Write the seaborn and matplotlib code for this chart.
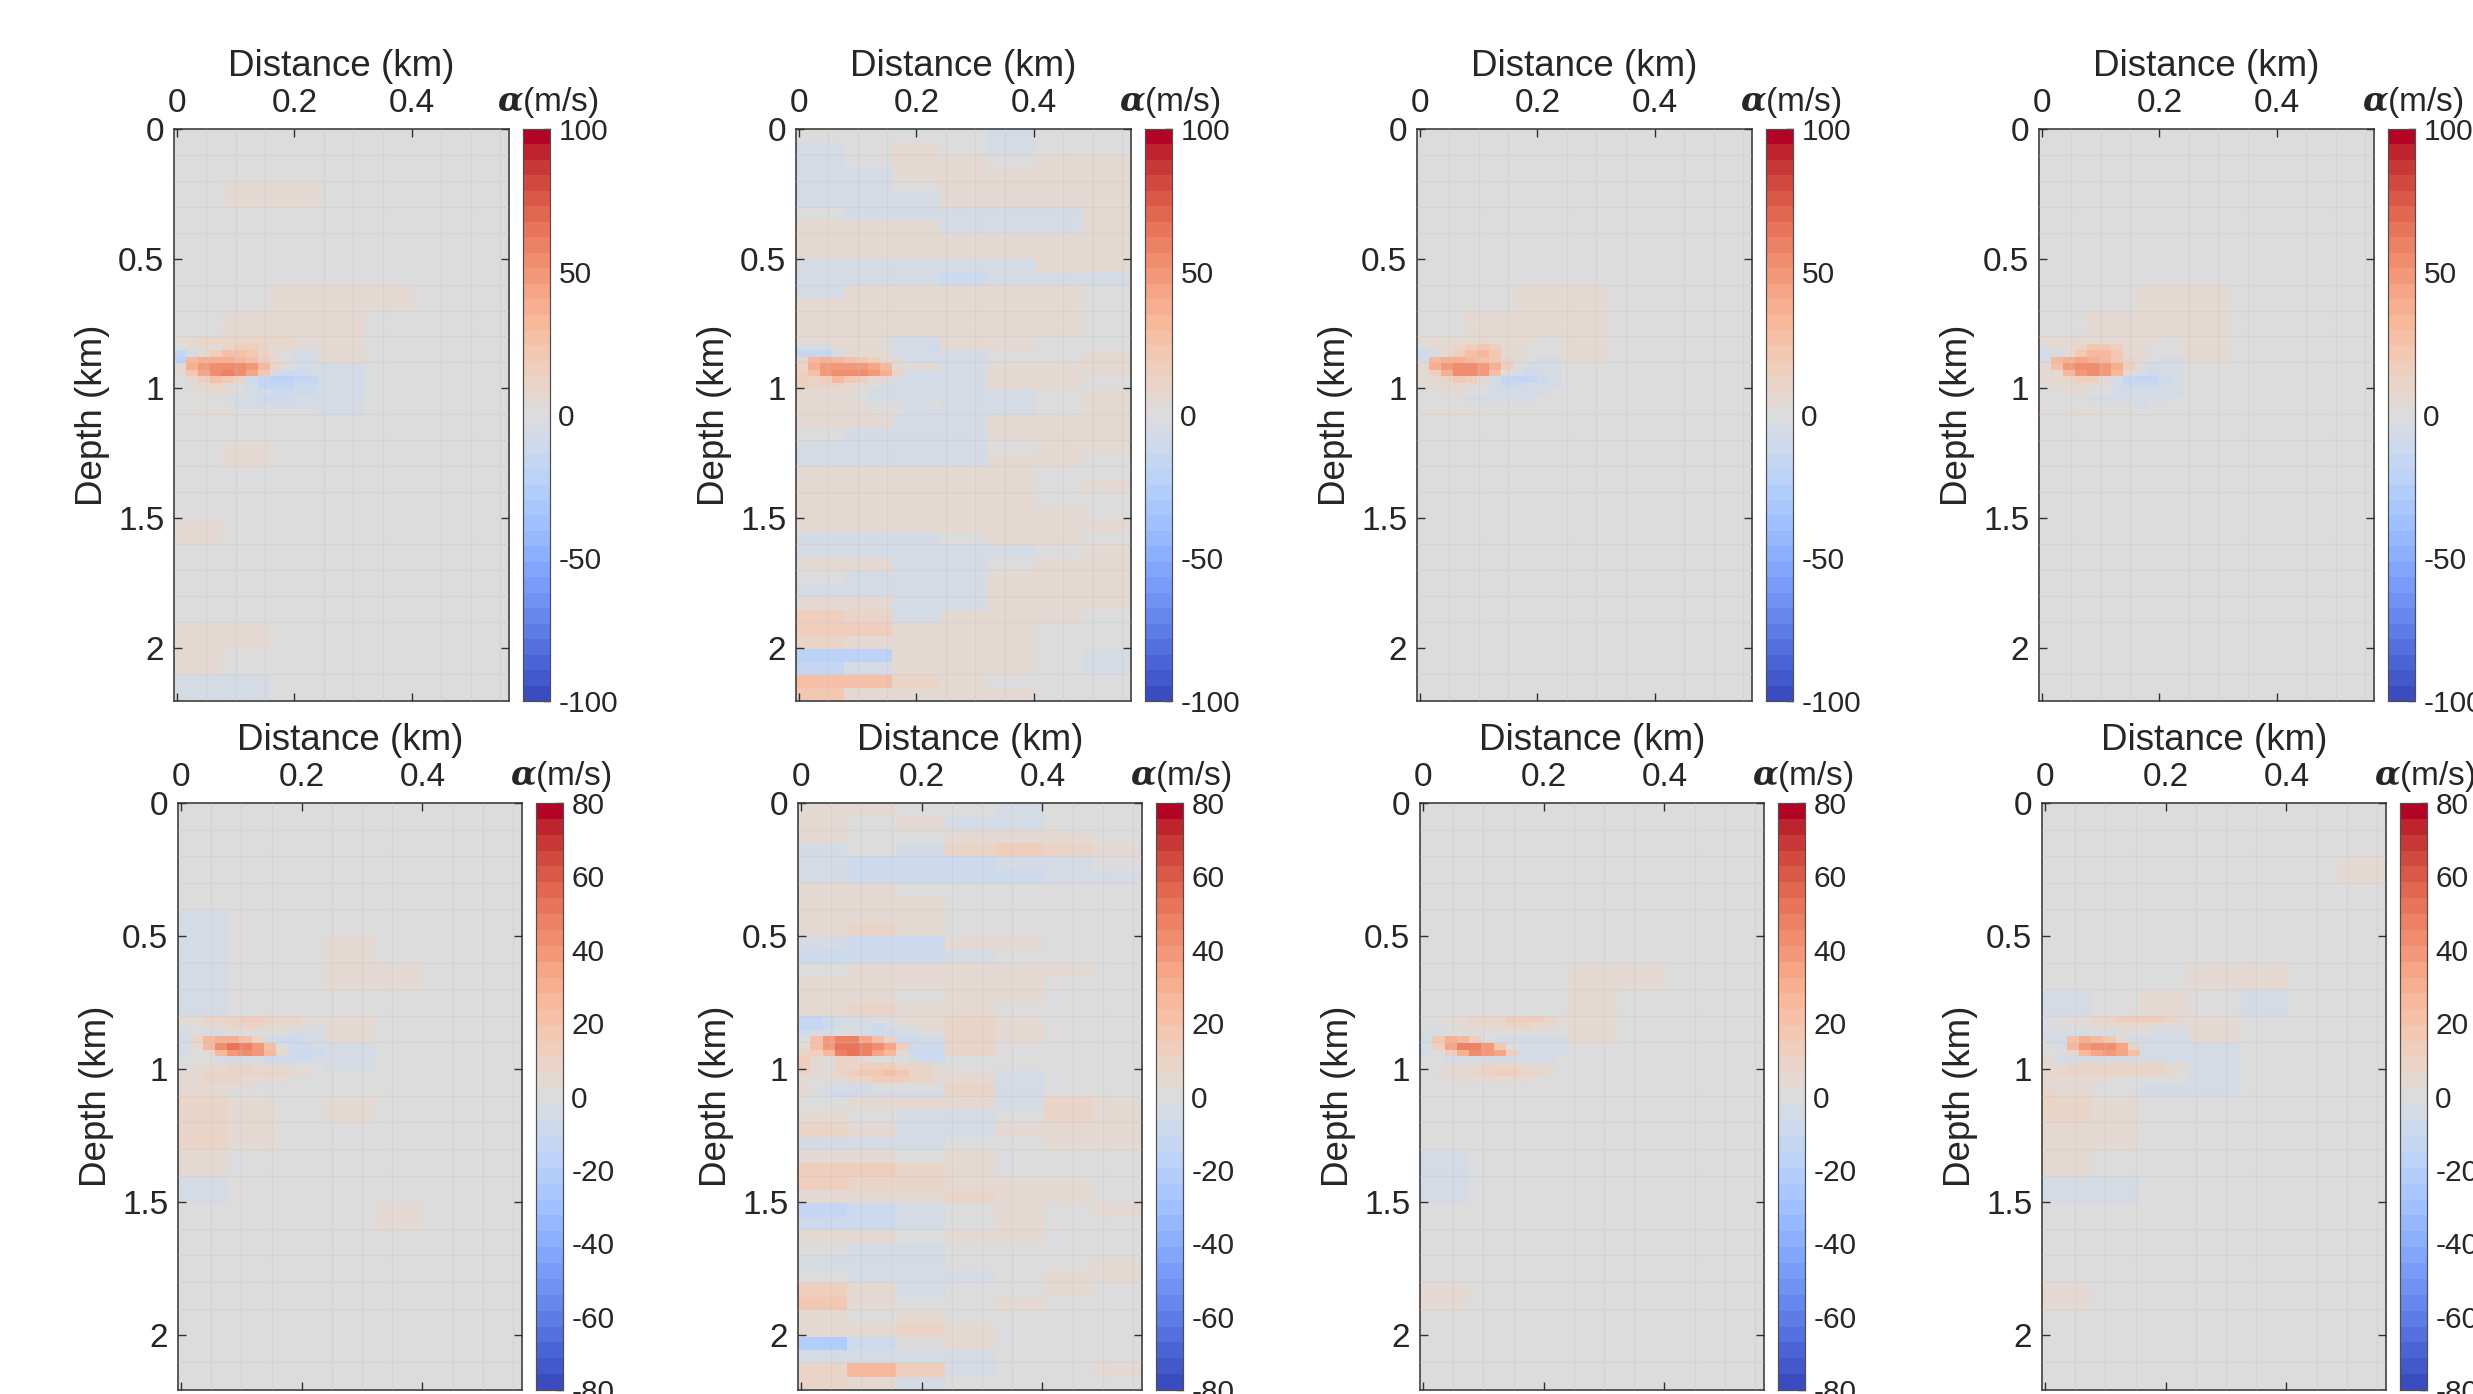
import matplotlib
matplotlib.use('Agg')
import matplotlib.pyplot as plt
import numpy as np
import seaborn as sns
from matplotlib.colors import ListedColormap

# tick labels and colour limits
distance_ticks = [0, 0.2, 0.4]
depth_ticks = [0, 0.5, 1, 1.5, 2]
depth_labels = ['0', '0.5', '1', '1.5', '2']
top_limit = 100
bottom_limit = 80
top_cbar_ticks = [-100, -50, 0, 50, 100]
bottom_cbar_ticks = [-80, -60, -40, -20, 0, 20, 40, 60, 80]

# perturbation, m/s
# background grids: 0.08 km columns, 0.1 km rows (0.05 km for the two noisy panels)
# streak grids: depth 0.8-1.1 km by 0.025, distance 0-0.24 km by 0.02
p1_bg = [
    [0, 0, 0, 1, 0, 0, 0],
    [1, 1, 1, 0, 0, 0, 1],
    [1, 3, 3, 1, 0, 0, 0],
    [1, 2, 1, 1, -1, -1, 0],
    [0, 1, 1, 0, 0, 0, 0],
    [1, 1, 1, 1, 1, 0, 0],
    [1, 2, 3, 3, 3, 1, 0],
    [2, 4, 5, 5, 2, 1, 0],
    [3, 6, 6, 3, 1, 1, 0],
    [-2, 1, -3, -3, 1, 2, 1],
    [-1, -3, -5, -3, -2, 1, 1],
    [0, 1, 1, 1, 1, 0, 0],
    [1, 3, 1, 1, 1, 0, 0],
    [0, 1, 0, 0, 0, 0, 0],
    [0, 0, 0, 0, 0, 0, 0],
    [3, 1, 1, 1, 0, 0, 0],
    [1, 1, 1, 0, 0, 0, 0],
    [0, 1, 0, 0, 0, 0, 0],
    [0, 0, 0, 0, 0, 0, 0],
    [3, 3, 1, 0, 0, 0, 0],
    [3, 2, 0, 0, 0, 0, 0],
    [-7, -5, -2, 0, 0, 0, 0],
]
p1_streak = [
    [3, 8, 10, 10, 10, 12, 12, 12, 10, 10, 8, 6],
    [0, 4, 6, 8, 12, 14, 14, 10, 8, 6, 4, 2],
    [-18, -4, 5, 14, 26, 28, 24, 12, 4, 0, -3, -4],
    [-20, 32, 38, 40, 38, 32, 26, 18, 8, 0, -4, -5],
    [5, 38, 50, 55, 56, 52, 46, 34, 12, -2, -6, -6],
    [4, 22, 42, 54, 57, 52, 42, 20, -6, -10, -10, -8],
    [2, 8, 14, 25, 20, 10, -10, -18, -20, -20, -18, -14],
    [0, 3, 6, 12, 8, 2, -8, -14, -16, -14, -12, -12],
    [0, 0, 4, 8, 3, -2, -6, -8, -10, -12, -12, -10],
    [-2, -2, -2, -2, -4, -6, -8, -10, -10, -10, -8, -6],
    [-1, -1, 0, 0, -2, -3, -5, -6, -6, -6, -5, -3],
    [1, 1, 3, 3, 3, 2, 1, 0, -1, -1, -2, 0],
]

p2_bg = [
    [-2, 1, 2, -2, -3, -1, 0],
    [-3, 2, 3, -2, -4, -2, 1],
    [-4, 1, 4, 4, 2, 4, 4],
    [-5, -3, 3, 4, 3, 5, 4],
    [-5, -6, -2, 6, 6, 5, 3],
    [-4, -7, -5, 8, 8, 6, 4],
    [-2, -6, -6, -3, -4, -3, 3],
    [3, 4, 3, -3, -3, -3, 3],
    [3, 6, 7, 7, 6, 6, 5],
    [3, 8, 8, 7, 7, 6, 4],
    [-6, -4, -6, -6, -4, 3, 3],
    [-8, -8, -8, -9, -7, -5, -3],
    [-3, 5, 4, 4, 3, 3, 1],
    [4, 6, 6, 6, 5, 4, 2],
    [3, 3, 3, 3, 3, 3, 1],
    [4, 8, 8, 3, 3, 3, 1],
    [5, 12, 9, 7, 3, 1, 1],
    [-6, -3, -6, -3, -1, 1, 3],
    [12, 4, -9, -7, 3, 4, 3],
    [8, 3, -4, -6, 3, 3, 1],
    [3, -5, -5, -5, -3, 1, 3],
    [-3, 4, -5, -7, -3, 1, 3],
    [3, 3, -4, -6, 3, 4, 3],
    [1, -3, -7, -4, 3, 6, 4],
    [-3, -6, -7, -4, 1, 5, 3],
    [-4, -7, -8, -3, 3, 3, 1],
    [3, 3, 3, 3, 3, 1, 1],
    [5, 7, 5, 4, 3, 1, 3],
    [6, 7, 5, 3, 3, 1, 1],
    [3, 4, 5, 4, 3, 3, 1],
    [7, 8, 7, 6, 5, 4, 3],
    [-3, -5, -3, 1, 3, 3, 1],
    [-4, -3, -5, -5, -3, -1, 3],
    [3, 4, -4, -5, 1, 3, 5],
    [1, -3, -6, -4, 3, 4, 5],
    [-3, -4, -5, -6, 3, 4, 5],
    [7, 5, -8, -5, 3, 3, 3],
    [16, 13, -3, 5, 5, 3, 1],
    [18, 14, 8, 8, 6, 1, 1],
    [10, 6, 3, 6, 6, 1, 1],
    [-24, -22, 3, 5, 5, 1, -3],
    [-18, -6, 8, 3, 3, 1, -3],
    [28, 25, 10, 3, 1, -1, 0],
    [22, 8, 7, 3, 3, 0, 1],
]
p2_streak = [
    [3, 4, 8, 8, 5, 3, 3, 0, -3, -3, -4, -4],
    [-5, -8, -6, 3, 5, 4, 3, 0, -4, -6, -8, -9],
    [-15, -18, -15, -5, 3, 6, 5, 3, -3, -6, -8, -8],
    [10, 32, 38, 34, 28, 22, 18, 8, 3, -3, -3, -3],
    [12, 38, 46, 50, 50, 48, 44, 30, 6, 0, 3, 4],
    [14, 28, 46, 56, 56, 52, 50, 36, 10, -3, -3, -3],
    [14, 12, 18, 30, 24, 16, 8, 4, -4, -6, -6, -6],
    [16, 12, 12, 10, 8, 4, -1, -5, -8, -8, -6, -4],
    [8, 8, 6, 5, 3, 0, -3, -5, -6, -5, -4, -3],
    [5, 5, 4, 3, 3, 0, -3, -3, -3, -3, -3, -3],
    [3, 3, 3, 4, 4, 3, 1, 0, -1, -3, -3, 0],
    [3, 3, 4, 4, 7, 7, 4, 3, 0, -4, -5, -3],
]

p3_bg = [
    [0, 0, 1, 0, 0, 0, 0],
    [1, 1, 1, 0, 0, 0, 0],
    [1, 2, 1, 0, 0, 0, 0],
    [0, 1, 0, 0, 0, 0, 0],
    [0, 1, 1, 0, 0, 0, 0],
    [1, 1, 1, 1, 1, 0, 0],
    [0, 1, 3, 3, 1, 0, 0],
    [1, 3, 4, 3, 1, 0, 0],
    [3, 5, 4, 3, 1, 0, 0],
    [-2, -1, -2, -2, 0, 0, 0],
    [-1, -2, -3, -2, -1, 0, 0],
    [0, 1, 1, 0, 0, 0, 0],
    [0, 1, 0, 0, 0, 0, 0],
    [0, 0, 0, 0, 0, 0, 0],
    [0, 0, 0, 0, 0, 0, 0],
    [1, 0, 0, 0, 0, 0, 0],
    [0, 0, 0, 0, 0, 0, 0],
    [0, 0, 0, 0, 0, 0, 0],
    [0, 0, 0, 0, 0, 0, 0],
    [1, 1, 0, 0, 0, 0, 0],
    [1, 0, 0, 0, 0, 0, 0],
    [-1, -1, 0, 0, 0, 0, 0],
]
p3_streak = [
    [3, 5, 6, 7, 7, 6, 6, 5, 3, 3, 1, 1],
    [0, 3, 5, 10, 18, 20, 14, 6, 3, 1, 0, 0],
    [-10, -3, 5, 16, 28, 30, 20, 8, 3, 0, -2, -2],
    [-8, 34, 40, 38, 32, 28, 20, 10, 3, -2, -3, -3],
    [4, 36, 50, 54, 52, 48, 36, 14, 0, -4, -6, -4],
    [3, 18, 38, 52, 54, 46, 28, 0, -8, -10, -8, -6],
    [3, 6, 12, 20, 16, 6, -8, -14, -16, -14, -10, -6],
    [0, 3, 6, 8, 5, 0, -6, -10, -10, -8, -6, -4],
    [0, 1, 3, 3, 1, -2, -4, -5, -6, -5, -4, -2],
    [-1, -1, -1, -2, -3, -4, -4, -4, -4, -3, -2, -1],
    [0, 0, 0, 0, 0, -1, -2, -2, -2, -1, -1, 0],
    [3, 3, 3, 3, 3, 1, 0, 0, 0, 0, 0, 0],
]

p4_bg = [
    [0, 0, 0, 0, 0, 0, 0],
    [1, 1, 0, 0, 0, 0, 0],
    [1, 1, 1, 0, 0, 0, 0],
    [0, 0, 0, 0, 0, 0, 0],
    [0, 0, 1, 0, 0, 0, 0],
    [1, 1, 1, 1, 0, 0, 0],
    [0, 1, 3, 3, 1, 0, 0],
    [1, 3, 5, 3, 1, 0, 0],
    [3, 5, 5, 3, 1, 0, 0],
    [-3, -1, -2, -2, -1, 0, 0],
    [-1, -2, -3, -2, -1, 0, 0],
    [1, 1, 1, 0, 0, 0, 0],
    [1, 0, 0, 0, 0, 0, 0],
    [0, 0, 0, 0, 0, 0, 0],
    [0, 0, 0, 0, 0, 0, 0],
    [1, 1, 0, 0, 0, 0, 0],
    [0, 0, 0, 0, 0, 0, 0],
    [0, 0, 0, 0, 0, 0, 0],
    [0, 0, 0, 0, 0, 0, 0],
    [1, 0, 0, 0, 0, 0, 0],
    [0, 0, 0, 0, 0, 0, 0],
    [-1, 0, 0, 0, 0, 0, 0],
]
p4_streak = [
    [3, 4, 7, 8, 8, 7, 7, 6, 4, 3, 2, 1],
    [0, 3, 6, 12, 20, 22, 16, 8, 4, 2, 0, 0],
    [-8, -3, 6, 20, 30, 30, 20, 8, 3, 0, -2, -2],
    [-6, 32, 40, 42, 36, 30, 22, 12, 3, -2, -3, -3],
    [4, 28, 48, 52, 54, 50, 38, 16, 0, -3, -5, -4],
    [3, 8, 30, 50, 54, 48, 30, 3, -8, -10, -8, -6],
    [3, 4, 10, 16, 14, 6, -8, -14, -16, -14, -12, -8],
    [0, 3, 4, 6, 4, 0, -6, -10, -12, -10, -8, -6],
    [0, 1, 3, 3, 0, -2, -4, -6, -6, -6, -5, -3],
    [-1, -1, -1, -2, -3, -4, -4, -5, -5, -4, -3, -2],
    [0, 0, 0, 0, 0, -1, -2, -2, -3, -2, -2, -1],
    [3, 1, 3, 3, 3, 1, 0, 0, 0, 0, 0, 0],
]

p5_bg = [
    [-1, 0, 1, 1, 2, 2, -1],
    [-1, 1, 2, 1, 1, 1, -1],
    [-2, -1, 1, 1, 0, 0, -2],
    [-2, -1, 0, 0, 0, 1, 0],
    [-3, -2, 0, 1, 1, 0, 0],
    [-4, -2, 2, 3, 1, 0, -1],
    [-3, -1, 1, 3, 5, 1, 0],
    [-5, -2, 2, 1, 1, 0, 0],
    [-3, 6, 8, 4, 2, 1, 0],
    [-2, 0, -4, -3, 0, 1, 0],
    [4, 5, 2, -2, 1, 1, 0],
    [8, 4, 2, 3, 2, 1, 0],
    [8, 5, 2, 1, 1, 0, 0],
    [4, 2, 1, 1, 0, 0, 0],
    [-5, -2, 0, 1, 0, 0, 0],
    [1, 0, 0, 1, 3, 1, 0],
    [1, 1, 0, 0, 0, 0, 0],
    [2, 1, 0, 0, 0, 0, 0],
    [2, 1, 0, 0, 0, 0, 0],
    [-2, 0, 0, 0, 0, 0, 0],
    [1, 0, 0, 0, 0, 0, 0],
    [1, 0, 0, 0, 0, 0, 0],
]
p5_streak = [
    [3, 6, 8, 10, 10, 11, 11, 10, 10, 8, 6, 3],
    [0, 2, 4, 6, 8, 8, 8, 6, 5, 4, 2, 0],
    [-4, -2, -4, -4, -2, 0, 0, 0, -2, -3, -3, -3],
    [-6, 8, 28, 32, 30, 20, 8, -6, -8, -8, -6, -5],
    [-6, 4, 26, 44, 50, 48, 40, 22, -2, -10, -8, -6],
    [-4, 0, 6, 24, 38, 44, 40, 28, 6, -8, -10, -8],
    [-2, 0, 0, -3, -5, -5, -6, -8, -8, -8, -8, -6],
    [2, 4, 6, 6, 7, 7, 6, 5, 4, 2, 1, 0],
    [3, 5, 8, 9, 9, 9, 8, 8, 7, 4, 3, 2],
    [3, 5, 7, 7, 7, 6, 5, 4, 3, 2, 2, 1],
    [4, 5, 5, 4, 3, 3, 2, 2, 2, 1, 1, 1],
    [4, 5, 4, 3, 2, 2, 2, 2, 1, 1, 1, 1],
]

p6_bg = [
    [3, 3, 2, -2, -3, -1, 1],
    [4, 2, 3, -3, -4, -2, 0],
    [3, -2, -2, 4, 6, 4, 2],
    [-3, -2, -3, 7, 12, 8, 6],
    [-4, -9, -7, -8, -5, -3, -2],
    [-3, -7, -8, -9, -8, -6, -4],
    [4, 3, 2, -2, -2, -2, 1],
    [5, 6, 4, 2, 1, 1, 0],
    [4, 5, 3, 2, 2, 2, 1],
    [6, 9, 5, 2, 2, 1, 0],
    [-6, -10, -8, 4, 3, 2, 0],
    [-8, -9, -7, -3, -2, -1, -1],
    [2, 4, 4, 3, 5, 3, 1],
    [3, 6, 6, 5, 3, 2, 1],
    [3, 3, 2, 3, 4, 2, 1],
    [4, 7, 6, 3, 1, 1, 0],
    [-12, -8, 7, 10, 3, 1, 0],
    [-14, -9, -4, 9, 5, 1, 0],
    [0, -6, -5, 7, 1, 2, 2],
    [0, -4, -7, -2, -2, 1, 1],
    [4, 5, 8, 3, -3, 2, 2],
    [6, 8, 9, 7, -3, 1, 2],
    [2, 3, 4, 5, -3, 8, 3],
    [6, 2, -4, -5, 2, 9, 5],
    [10, 4, -5, -5, 3, 5, 4],
    [-4, -5, -5, -2, 2, 4, 3],
    [3, 4, 2, 4, 2, 2, 1],
    [14, 12, 7, 4, 2, 1, 1],
    [13, 10, 8, 5, 3, 3, 1],
    [6, 5, 5, 7, 3, 3, 1],
    [-14, -8, -5, -2, 4, 2, 3],
    [-8, -7, -5, -2, 5, 1, 1],
    [4, 3, 2, 4, 6, 2, 1],
    [-2, -5, -3, 2, 2, 1, 1],
    [-4, -6, -5, -2, 0, 2, 4],
    [-2, -4, -5, -3, 2, 4, 5],
    [12, 4, -3, -2, 1, 3, 2],
    [16, 4, 2, 1, 3, 2, 1],
    [6, 2, 4, 2, 2, 2, 1],
    [3, 3, 8, 4, 2, 1, 2],
    [-22, -8, 2, 3, 2, 2, 1],
    [-6, -4, -6, -3, -1, 0, 1],
    [10, 28, 14, -3, 1, 2, 3],
    [8, 3, -4, 1, 1, 1, 1],
]
p6_streak = [
    [-14, -14, -10, -6, -4, -4, -2, 0, 4, 6, 6, 6],
    [-14, -12, -8, -6, -4, -6, -8, -6, -2, 2, 4, 4],
    [-8, -6, -4, 2, 0, -4, -8, -10, -6, -4, -2, -2],
    [2, 20, 38, 46, 46, 36, 22, 8, -8, -8, -6, -6],
    [6, 22, 40, 53, 53, 48, 44, 36, 14, -8, -10, -10],
    [10, 14, 28, 46, 50, 48, 36, 24, 6, -8, -10, -10],
    [14, 6, 4, 8, 10, 6, 2, 0, 0, -6, -8, -8],
    [12, 4, 2, 8, 10, 12, 14, 12, 10, 8, 8, 6],
    [8, 3, 4, 10, 14, 16, 18, 20, 16, 10, 10, 6],
    [4, 2, 3, 6, 8, 10, 12, 14, 12, 10, 8, 4],
    [3, 2, -3, -6, -5, -4, -2, 0, -2, -2, -2, -2],
    [4, 2, -6, -8, -8, -6, -4, -3, -4, -4, -3, -3],
]

p7_bg = [
    [0, 0, 0, 0, 0, 0, 0],
    [1, 1, 0, 0, 0, 0, 0],
    [0, 1, 0, 0, 0, 0, 0],
    [0, 0, 0, 0, 0, 0, 0],
    [0, 1, 1, 0, 0, 0, 0],
    [0, 1, 2, 1, 1, 0, 0],
    [0, 1, 2, 5, 3, 0, 0],
    [-1, 1, 2, 3, 1, -1, 0],
    [-1, 4, 7, 5, 1, 0, 0],
    [-2, -1, -3, -2, 0, 0, 0],
    [1, 2, -1, -2, 0, 0, 0],
    [1, 1, 0, 0, 0, 0, 0],
    [2, 1, 0, 0, 0, 0, 0],
    [-6, -2, 0, 0, 0, 0, 0],
    [-3, -1, 0, 0, 0, 0, 0],
    [1, 0, 0, 0, 0, 0, 0],
    [1, 0, 0, 0, 0, 0, 0],
    [1, 0, 0, 0, 0, 0, 0],
    [5, 1, 0, 0, 0, 0, 0],
    [1, 0, 0, 0, 0, 0, 0],
    [0, 0, 0, 0, 0, 0, 0],
    [0, 0, 0, 0, 0, 0, 0],
]
p7_streak = [
    [0, 2, 3, 4, 8, 9, 10, 12, 12, 12, 10, 6],
    [-1, 1, 2, 3, 4, 5, 6, 7, 7, 6, 4, 2],
    [-4, -3, -2, -1, -1, 0, 0, 0, 0, -1, -2, -2],
    [-6, 16, 30, 28, 14, 2, -4, -5, -5, -5, -4, -3],
    [-5, 12, 36, 46, 46, 38, 18, -2, -6, -6, -5, -4],
    [-3, 2, 12, 30, 42, 40, 34, 12, -4, -6, -5, -4],
    [-2, -1, -3, -4, -5, -6, -6, -6, -5, -4, -3, -2],
    [1, 2, 3, 4, 5, 7, 7, 7, 6, 5, 3, 1],
    [1, 3, 5, 6, 9, 10, 11, 11, 10, 7, 5, 2],
    [1, 2, 3, 4, 5, 5, 5, 4, 3, 2, 1, 1],
    [1, 2, 2, 2, 2, 1, 1, 0, -1, -1, -1, -1],
    [1, 1, 1, 1, 1, 1, 0, 0, -1, -2, -2, -1],
]

p8_bg = [
    [0, 0, 0, 0, 0, 0, 1],
    [1, 1, 0, 0, 0, 0, 1],
    [1, 1, 0, 0, 1, 1, 5],
    [1, 1, 1, 0, 0, 0, 1],
    [0, 0, 1, 1, 1, 0, 0],
    [1, 1, 1, 1, 2, 1, 0],
    [1, 2, 2, 6, 6, 1, 0],
    [-3, 1, 3, 2, -3, -2, 0],
    [-2, 4, 8, 5, -2, 0, 0],
    [-4, -1, -3, -4, -2, 0, 0],
    [4, 5, -2, -3, -1, 0, 0],
    [7, 4, 2, 0, 0, 0, 0],
    [6, 3, 1, 0, 0, 0, 0],
    [6, 2, 1, 0, 0, 0, 0],
    [-6, -4, 0, 0, 0, 0, 0],
    [1, 0, 0, 0, 0, 0, 0],
    [1, 0, 0, 0, 0, 0, 0],
    [1, 0, 0, 0, 0, 0, 0],
    [5, 1, 0, 0, 0, 0, 0],
    [1, 0, 1, 0, 0, 0, 0],
    [0, 0, 0, 0, 0, 0, 0],
    [-1, 0, 0, 0, 0, 0, 0],
]
p8_streak = [
    [1, 2, 3, 6, 8, 10, 12, 12, 12, 11, 8, 4],
    [-2, 0, 1, 2, 3, 4, 4, 4, 3, 2, 1, 0],
    [-4, -5, -4, -3, -3, -3, -2, -2, -2, -3, -3, -3],
    [-6, -4, 22, 30, 26, 16, 4, -3, -4, -5, -4, -3],
    [-2, -3, 26, 40, 45, 44, 34, 10, -4, -6, -6, -4],
    [2, -2, 6, 24, 36, 40, 34, 22, -3, -6, -6, -5],
    [3, -3, -5, -5, -5, -4, -5, -5, -5, -5, -5, -4],
    [4, 6, 7, 8, 8, 8, 8, 9, 9, 8, 6, 3],
    [6, 7, 8, 8, 8, 9, 9, 10, 9, 8, 6, 2],
    [5, 5, 5, 4, 3, 3, 2, 1, 0, -1, -2, -2],
    [6, 5, 4, 3, 2, 1, 0, -2, -3, -3, -3, -3],
    [7, 5, 4, 3, 2, 1, 0, -2, -4, -4, -4, -3],
]

top_panels = [(p1_bg, p1_streak), (p2_bg, p2_streak), (p3_bg, p3_streak), (p4_bg, p4_streak)]
bottom_panels = [(p5_bg, p5_streak), (p6_bg, p6_streak), (p7_bg, p7_streak), (p8_bg, p8_streak)]

FINE_ROWS = 88
FINE_COLS = 28
X_MIN, X_MAX = -0.005, 0.565
Y_MAX = 2.206
W, H = 2473, 1394

sns.set_theme(style='white')
plt.rcParams['font.family'] = ['Liberation Sans', 'DejaVu Sans']
plt.rcParams['mathtext.fontset'] = 'dejavuserif'

stepped = ListedColormap(plt.get_cmap('coolwarm')(np.linspace(0, 1, 37)))


def build_field(bg, streak):
    """Blow the coarse grid up to the fine one and drop the streak grid in."""
    bg = np.array(bg, dtype=float)
    field = np.repeat(np.repeat(bg, FINE_ROWS // bg.shape[0], axis=0), FINE_COLS // bg.shape[1], axis=1)
    field[32:44, 0:12] = np.array(streak, dtype=float)
    return field


def draw_panel(fig, bg, streak, left, right, top, bottom, cbar_left, limit, cbar_ticks):
    ax = fig.add_axes([left / W, 1 - bottom / H, (right - left) / W, (bottom - top) / H])
    cax = fig.add_axes([cbar_left / W, 1 - bottom / H, 27 / W, (bottom - top) / H])
    sns.heatmap(build_field(bg, streak), ax=ax, cbar_ax=cax, cmap=stepped, vmin=-limit, vmax=limit,
                xticklabels=False, yticklabels=False, cbar_kws={'ticks': cbar_ticks})

    to_x = lambda km: (np.asarray(km) - X_MIN) / (X_MAX - X_MIN) * FINE_COLS
    to_y = lambda km: np.asarray(km) / Y_MAX * FINE_ROWS
    ax.set_xticks(to_x(distance_ticks))
    ax.set_xticklabels(['0', '0.2', '0.4'], fontsize=24, color='#262626')
    ax.set_yticks(to_y(depth_ticks))
    ax.set_yticklabels(depth_labels, fontsize=24, color='#262626', rotation=0)
    ax.tick_params(top=True, bottom=True, left=True, right=True, labeltop=True, labelbottom=False,
                   direction='in', length=6, width=1, color='#303030', pad=7)
    ax.xaxis.set_label_position('top')
    ax.set_xlabel('Distance (km)', fontsize=26.5, color='#262626', labelpad=9)
    ax.set_ylabel('Depth (km)', fontsize=26.5, color='#262626', labelpad=6)

    # faint acquisition grid that shows through in the original
    ax.set_xticks(to_x(np.arange(0.05, 0.56, 0.05)), minor=True)
    ax.set_yticks(to_y(np.arange(0.1, 2.2, 0.1)), minor=True)
    ax.tick_params(which='minor', length=0)
    ax.grid(which='minor', color='#c4c4c4', linewidth=1, alpha=0.3)
    ax.set_axisbelow(False)
    for spine in ax.spines.values():
        spine.set_visible(True)
        spine.set_color('#404040')
        spine.set_linewidth(1.2)

    cax.tick_params(direction='in', length=5, width=1, color='#303030', labelsize=21.5,
                    labelcolor='#262626', pad=6)
    cax.set_yticklabels([str(t) for t in cbar_ticks])
    cax.set_title(r'$\boldsymbol{\alpha}$(m/s)', fontsize=24, color='#262626', x=0.92, pad=13)
    for spine in cax.spines.values():
        spine.set_visible(True)
        spine.set_color('#505050')
        spine.set_linewidth(0.8)


fig = plt.figure(figsize=(W / 100, H / 100), dpi=100)

for i, (bg, streak) in enumerate(top_panels):
    left = [174, 796, 1417, 2039][i]
    draw_panel(fig, bg, streak, left, left + 335, 129, 701, left + 349, top_limit, top_cbar_ticks)

for i, (bg, streak) in enumerate(bottom_panels):
    left = [178, 798, 1420, 2042][i]
    draw_panel(fig, bg, streak, left, left + 344, 803, 1390, left + 358, bottom_limit, bottom_cbar_ticks)

fig.savefig('out.png', dpi=100)
